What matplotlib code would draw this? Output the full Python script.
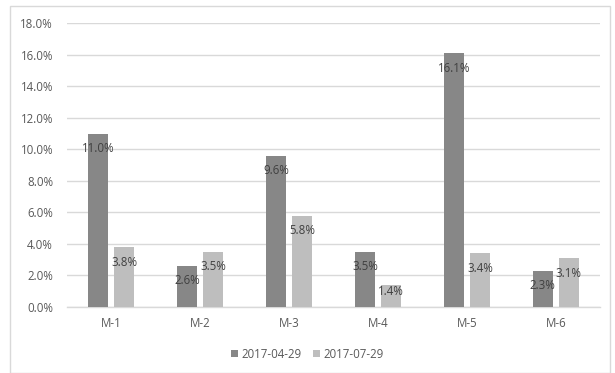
import matplotlib
matplotlib.use("Agg")
import matplotlib.pyplot as plt
from matplotlib.patches import Rectangle
import numpy as np

categories = ["M-1", "M-2", "M-3", "M-4", "M-5", "M-6"]
series_names = ["2017-04-29", "2017-07-29"]
values_apr = [11.0, 2.6, 9.6, 3.5, 16.1, 2.3]
values_jul = [3.8, 3.5, 5.8, 1.4, 3.4, 3.1]
yticks = [0, 2, 4, 6, 8, 10, 12, 14, 16, 18]

plt.rcParams['font.family'] = ['Open Sans', 'DejaVu Sans']

fig = plt.figure(figsize=(6.15, 3.73), dpi=100)
ax = fig.add_axes([0.109, 0.177, 0.867, 0.761])

x = np.arange(len(categories))
w = 0.225
off = 0.146
colors = ["#878787", "#bebebe"]
txt = "#595959"
fs = 8.3

b1 = ax.bar(x - off, values_apr, w, color=colors[0], label=series_names[0], zorder=3)
b2 = ax.bar(x + off, values_jul, w, color=colors[1], label=series_names[1], zorder=3)

for xs, vals in ((x - off, values_apr), (x + off, values_jul)):
    for xi, v in zip(xs, vals):
        yl = max(v - 0.95, 0.95)
        ax.text(xi, yl, f"{v:.1f}%", ha="center", va="center", fontsize=fs,
                color="#404040", zorder=4)

ax.set_xlim(-0.5, len(categories) - 0.5)
ax.set_ylim(0, 18)
ax.set_yticks(yticks)
ax.set_yticklabels([f"{t:.1f}%" for t in yticks])
ax.set_xticks(x)
ax.set_xticklabels(categories)
ax.tick_params(axis="both", length=0, labelsize=fs, colors=txt)
ax.tick_params(axis="y", pad=10)
ax.tick_params(axis="x", pad=7)
ax.yaxis.grid(True, color="#d9d9d9", linewidth=1, zorder=0)
for s in ("left", "right", "top"):
    ax.spines[s].set_visible(False)
ax.spines["bottom"].set_color("#d9d9d9")
ax.spines["bottom"].set_linewidth(1)

leg = fig.legend(handles=[b1, b2], labels=series_names, loc="center",
                 bbox_to_anchor=(0.5, 0.05), ncol=2, frameon=False,
                 fontsize=fs, handlelength=0.6, handleheight=0.6,
                 handletextpad=0.3, columnspacing=1.0)
for t in leg.get_texts():
    t.set_color(txt)

fig.patches.append(Rectangle((10 / 615, 0.0), 600 / 615, 1 - 6 / 373,
                             transform=fig.transFigure, fill=False,
                             edgecolor="#d9d9d9", linewidth=1))

fig.savefig("out.png", dpi=100, facecolor="white")
